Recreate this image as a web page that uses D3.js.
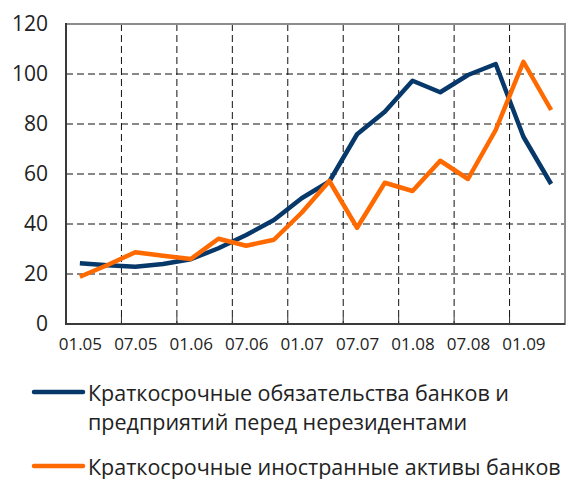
<!DOCTYPE html>
<html>
<head>
<meta charset="utf-8">
<script src="https://cdn.jsdelivr.net/npm/d3@7"></script>
<style>
  body { margin: 0; background: #fff; }
  text { font-family: "Open Sans", "Noto Sans", sans-serif; fill: #222; }
</style>
</head>
<body>
<div id="chart"></div>
<script>
// quarterly points, 01.05 .. 04.09
var quarters = ['01.05','04.05','07.05','10.05','01.06','04.06','07.06','10.06',
                '01.07','04.07','07.07','10.07','01.08','04.08','07.08','10.08',
                '01.09','04.09'];
var liabilities = [24.3, 23.5, 22.9, 24, 25.9, 30.3, 35.6, 41.6, 50.3, 57,
                   75.9, 84.9, 97.3, 92.7, 99.6, 104, 74.9, 56];
var assets = [18.9, 23.6, 28.7, 27.3, 26, 34.1, 31.3, 33.7, 44.5, 57.2,
              38.5, 56.5, 53.2, 65.3, 58, 77.6, 104.9, 85.6];
var yTicks = [0, 20, 40, 60, 80, 100, 120];
var xLabels = ['01.05','07.05','01.06','07.06','01.07','07.07','01.08','07.08','01.09'];
var seriesNames = ['Краткосрочные обязательства банков и|предприятий перед нерезидентами',
                   'Краткосрочные иностранные активы банков'];

var width = 572, height = 479;
var plotLeft = 66, plotRight = 565, plotTop = 24, plotBottom = 324;
var blue = '#06386a', orange = '#ff6a00';

var svg = d3.select('#chart').append('svg')
      .attr('width', width)
      .attr('height', height);

var x = d3.scalePoint()
      .domain(quarters)
      .range([plotLeft, plotRight])
      .padding(0.5);
var step = x.step();

var y = d3.scaleLinear()
      .domain([0, 120])
      .range([plotBottom, plotTop]);

// horizontal grid
svg.append('g')
      .selectAll('line')
      .data(yTicks.filter(d => d > 0 && d < 120))
      .enter().append('line')
      .attr('x1', plotLeft).attr('x2', plotRight)
      .attr('y1', d => y(d)).attr('y2', d => y(d))
      .attr('stroke', '#111')
      .attr('stroke-dasharray', '7,4');

// vertical grid at boundaries between half-years
var bounds = xLabels.slice(1).map(d => x(d) - step / 2);
svg.append('g')
      .selectAll('line')
      .data(bounds)
      .enter().append('line')
      .attr('x1', d => d).attr('x2', d => d)
      .attr('y1', plotTop).attr('y2', plotBottom)
      .attr('stroke', '#111')
      .attr('stroke-dasharray', '7,4');

// frame
svg.append('rect')
      .attr('x', plotLeft).attr('y', plotTop)
      .attr('width', plotRight - plotLeft).attr('height', plotBottom - plotTop)
      .attr('fill', 'none')
      .attr('stroke', '#8c8c8c')
      .attr('stroke-width', 2);

// axes
var xAxis = d3.axisBottom(x)
      .tickValues(xLabels)
      .tickSize(0)
      .tickPadding(14);
var gx = svg.append('g')
      .attr('transform', 'translate(0,' + plotBottom + ')')
      .call(xAxis);
gx.select('.domain').remove();
gx.selectAll('text')
      .style('font-size', '17px')
      .style('font-family', '"Open Sans", sans-serif')
      .attr('fill', '#222');

// small ticks pointing into the plot
svg.append('g')
      .selectAll('line')
      .data(bounds)
      .enter().append('line')
      .attr('x1', d => d).attr('x2', d => d)
      .attr('y1', plotBottom).attr('y2', plotBottom - 7)
      .attr('stroke', '#333')
      .attr('stroke-width', 1);

var yAxis = d3.axisLeft(y)
      .tickValues(yTicks)
      .tickSize(0)
      .tickPadding(18);
var gy = svg.append('g')
      .attr('transform', 'translate(' + plotLeft + ',0)')
      .call(yAxis);
gy.select('.domain').remove();
gy.selectAll('text')
      .style('font-size', '21px')
      .style('font-family', '"Open Sans", sans-serif')
      .attr('fill', '#222');

svg.append('line')
      .attr('x1', plotLeft).attr('x2', plotLeft)
      .attr('y1', plotTop - 1).attr('y2', plotBottom + 1)
      .attr('stroke', '#3a3a3a').attr('stroke-width', 2);
svg.append('line')
      .attr('x1', plotLeft - 1).attr('x2', plotRight)
      .attr('y1', plotBottom).attr('y2', plotBottom)
      .attr('stroke', '#3a3a3a').attr('stroke-width', 2);

// series lines
var line = d3.line()
      .x((d, i) => x(quarters[i]))
      .y(d => y(d));

svg.append('path')
      .datum(liabilities)
      .attr('d', line)
      .attr('fill', 'none')
      .attr('stroke', blue)
      .attr('stroke-width', 4.5)
      .attr('stroke-linejoin', 'round');

svg.append('path')
      .datum(assets)
      .attr('d', line)
      .attr('fill', 'none')
      .attr('stroke', orange)
      .attr('stroke-width', 4.5)
      .attr('stroke-linejoin', 'round');

// legend
var legend = [
      {name: seriesNames[0], color: blue, y: 392},
      {name: seriesNames[1], color: orange, y: 466}
];
legend.forEach(function(l) {
      svg.append('line')
            .attr('x1', 34).attr('x2', 83)
            .attr('y1', l.y).attr('y2', l.y)
            .attr('stroke', l.color)
            .attr('stroke-width', 4.5)
            .attr('stroke-linecap', 'round');
      var t = svg.append('text')
            .attr('x', 88)
            .attr('y', l.y + 9)
            .style('font-size', '21.5px');
      l.name.split('|').forEach(function(s, i) {
            t.append('tspan')
                  .attr('x', 88)
                  .attr('dy', i ? 29 : 0)
                  .text(s);
      });
});
</script>
</body>
</html>
